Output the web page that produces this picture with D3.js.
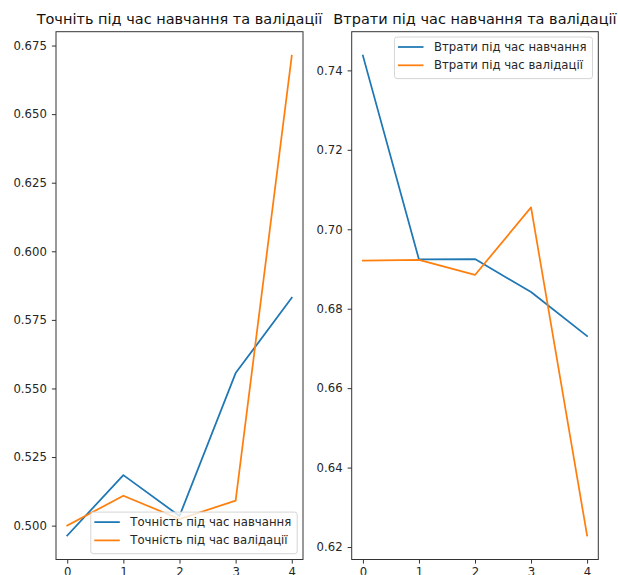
<!DOCTYPE html>
<html>
<head>
<meta charset="utf-8">
<script src="https://cdn.jsdelivr.net/npm/d3@7"></script>
<style>
  body { margin: 0; background: #fff; }
  svg { display: block; font-family: "DejaVu Sans", sans-serif; }
</style>
</head>
<body>
<svg id="chart" width="618" height="575"></svg>
<script>
const epochs = [0, 1, 2, 3, 4];

const accTrain = [0.4964, 0.5184, 0.5035, 0.5556, 0.5831];
const accVal = [0.5000, 0.5109, 0.5024, 0.5091, 0.6713];
const accTicks = [0.500, 0.525, 0.550, 0.575, 0.600, 0.625, 0.650, 0.675];

const lossTrain = [0.7437, 0.6924, 0.6925, 0.6842, 0.6731];
const lossVal = [0.6921, 0.6923, 0.6885, 0.7055, 0.6229];
const lossTicks = [0.62, 0.64, 0.66, 0.68, 0.70, 0.72, 0.74];

const panels = [
    {
        title: "Точніть під час навчання та валідації",
        left: 56, right: 303, top: 31.7, bottom: 559.5,
        series: [accTrain, accVal],
        labels: ["Точність під час навчання", "Точність під час валідації"],
        ticks: accTicks, fmt: d3.format(".3f"),
        legend: "lower right"
    },
    {
        title: "Втрати під час навчання та валідації",
        left: 351.7, right: 598.3, top: 31.7, bottom: 559.5,
        series: [lossTrain, lossVal],
        labels: ["Втрати під час навчання", "Втрати під час валідації"],
        ticks: lossTicks, fmt: d3.format(".2f"),
        legend: "upper right"
    }
];

const colors = ["#1f77b4", "#ff7f0e"];
const fs = 11.7;
const svg = d3.select("#chart");

panels.forEach(p => {
    const all = p.series.flat();
    const lo = d3.min(all), hi = d3.max(all), m = (hi - lo) * 0.05;

    const x = d3.scaleLinear().domain([-0.2, 4.2]).range([p.left, p.right]);
    const y = d3.scaleLinear().domain([lo - m, hi + m]).range([p.bottom, p.top]);

    const g = svg.append("g");

    const clipId = "clip" + Math.round(p.left);
    g.append("clipPath").attr("id", clipId)
        .append("rect")
        .attr("x", p.left).attr("y", p.top)
        .attr("width", p.right - p.left).attr("height", p.bottom - p.top);

    const line = d3.line().x((d, i) => x(epochs[i])).y(d => y(d));

    g.append("g").attr("clip-path", `url(#${clipId})`)
        .selectAll("path")
        .data(p.series)
        .join("path")
        .attr("d", line)
        .attr("fill", "none")
        .attr("stroke", (d, i) => colors[i])
        .attr("stroke-width", 1.75)
        .attr("stroke-linejoin", "round")
        .attr("stroke-linecap", "square");

    // axes
    const xAxis = d3.axisBottom(x).tickValues(epochs).tickSize(4.1).tickPadding(4).tickFormat(d3.format("d"));
    const yAxis = d3.axisLeft(y).tickValues(p.ticks).tickSize(4.1).tickPadding(5).tickFormat(p.fmt);

    const gx = g.append("g").attr("transform", `translate(0,${p.bottom})`).call(xAxis);
    const gy = g.append("g").attr("transform", `translate(${p.left},0)`).call(yAxis);
    [gx, gy].forEach(a => {
        a.select(".domain").remove();
        a.selectAll("line").attr("stroke", "#333").attr("stroke-width", 1);
        a.selectAll("text").attr("font-size", fs).attr("fill", "#262626")
            .attr("font-family", "DejaVu Sans, sans-serif");
    });

    // spines
    g.append("rect")
        .attr("x", p.left).attr("y", p.top)
        .attr("width", p.right - p.left).attr("height", p.bottom - p.top)
        .attr("fill", "none").attr("stroke", "#333").attr("stroke-width", 1);

    // title
    g.append("text")
        .attr("x", (p.left + p.right) / 2).attr("y", p.top - 7.5)
        .attr("text-anchor", "middle")
        .attr("font-size", 14.5).attr("fill", "#111")
        .text(p.title);

    // legend
    const rowH = 18.3;
    const lg = g.append("g");
    const items = lg.selectAll("g.item").data(p.labels).join("g").attr("class", "item")
        .attr("transform", (d, i) => `translate(0,${10 + i * rowH})`);
    items.append("line").attr("x1", 3.5).attr("x2", 29).attr("y1", 0).attr("y2", 0)
        .attr("stroke", (d, i) => colors[i]).attr("stroke-width", 1.75);
    items.append("text").attr("x", 39.5).attr("y", 0).attr("dy", "0.33em")
        .attr("font-size", fs).attr("fill", "#262626").text(d => d);
    const tw = d3.max(items.selectAll("text").nodes(), n => n.getComputedTextLength());
    const boxW = 39.5 + tw + 6, boxH = 41.6;
    const bx = p.right - 5.8 - boxW;
    const by = p.legend === "upper right" ? p.top + 5.3 : p.bottom - 5.8 - boxH;
    lg.insert("rect", ":first-child")
        .attr("x", 0).attr("y", 0)
        .attr("width", boxW).attr("height", boxH)
        .attr("rx", 2.5).attr("fill", "#fff").attr("fill-opacity", 0.8)
        .attr("stroke", "#d6d6d6").attr("stroke-width", 1);
    lg.attr("transform", `translate(${bx},${by})`);
});
</script>
</body>
</html>
